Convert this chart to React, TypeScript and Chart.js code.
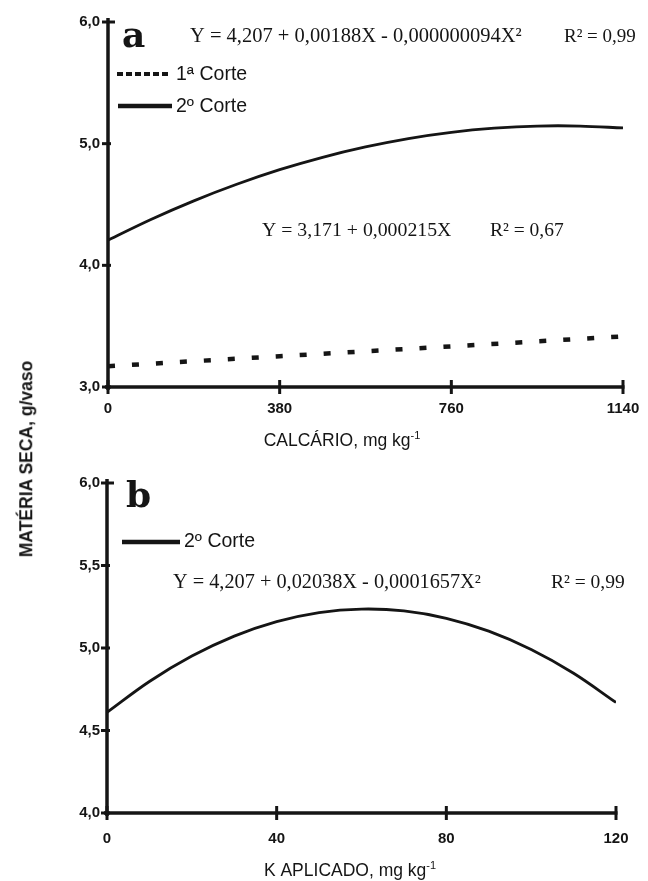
import React, { useEffect, useRef } from 'react';
import { Chart, registerables } from 'chart.js';

Chart.register(...registerables);

// ---------- DATA ----------
// Panel a: CALCÁRIO (mg kg-1)
const calcarioTicks = [0, 380, 760, 1140];
const materiaTicksA = [3, 4, 5, 6];
const calcarioX = [0, 95, 190, 285, 380, 475, 570, 665, 760, 855, 950, 1045, 1140];
const corte2A = [4.207, 4.377, 4.53, 4.666, 4.786, 4.888, 4.973, 5.042, 5.093, 5.127, 5.145, 5.145, 5.129];
const corte1X = [0, 380, 760, 1140];
const corte1A = [3.171, 3.253, 3.334, 3.416];

// Panel b: K APLICADO (mg kg-1)
const kTicks = [0, 40, 80, 120];
const materiaTicksB = [4, 4.5, 5, 5.5, 6];
const kX = [0, 10, 20, 30, 40, 50, 60, 70, 80, 90, 100, 110, 120];
const corte2B = [4.61, 4.797, 4.951, 5.072, 5.16, 5.215, 5.236, 5.225, 5.18, 5.102, 4.991, 4.847, 4.67];

// Texts
const eqA2 = 'Y = 4,207 + 0,00188X - 0,000000094X²';
const r2A2 = 'R² = 0,99';
const eqA1 = 'Y = 3,171 + 0,000215X';
const r2A1 = 'R² = 0,67';
const eqB = 'Y = 4,207 + 0,02038X - 0,0001657X²';
const r2B = 'R² = 0,99';
const legend1 = '1ª Corte';
const legend2 = '2º Corte';
const titleA = 'CALCÁRIO, mg kg';
const titleB = 'K APLICADO, mg kg';
const titleSup = '-1';
const yTitle = 'MATÉRIA SECA, g/vaso';

// ---------- DRAWING HELPERS ----------
const INK = '#151515';
const SERIF = '"Liberation Serif", "DejaVu Serif", serif';
const SERIF_WIDE = '"DejaVu Serif", "Liberation Serif", serif';
const SANS = '"Liberation Sans", Arial, sans-serif';

type Part = { t: string; sup?: boolean };
type TextItem = { parts: Part[]; x: number; y: number; size: number; family: string; weight?: string; align?: 'left' | 'center' };
type LegendItem = { x1: number; x2: number; y: number; dash: number[]; width: number };
type Decor = {
  texts: TextItem[];
  legend: LegendItem[];
  xTickUp: number;
  xTickDown: number;
};

function drawRich(ctx: CanvasRenderingContext2D, it: TextItem) {
  const w = it.weight || 'normal';
  const fN = `${w} ${it.size}px ${it.family}`;
  const fS = `${w} ${Math.round(it.size * 0.62)}px ${it.family}`;
  let total = 0;
  for (const p of it.parts) {
    ctx.font = p.sup ? fS : fN;
    total += ctx.measureText(p.t).width;
  }
  let cx = it.align === 'center' ? it.x - total / 2 : it.x;
  ctx.textAlign = 'left';
  ctx.textBaseline = 'alphabetic';
  for (const p of it.parts) {
    ctx.font = p.sup ? fS : fN;
    ctx.fillText(p.t, cx, p.sup ? it.y - it.size * 0.42 : it.y);
    cx += ctx.measureText(p.t).width;
  }
}

function makeDecor(cfg: Decor) {
  return {
    id: 'decor',
    afterDraw(chart: any) {
      const { ctx, chartArea, scales } = chart;
      const xs = scales.x;
      const ys = scales.y;
      const left = chartArea.left;
      const bottom = chartArea.bottom;
      ctx.save();
      ctx.strokeStyle = INK;
      ctx.fillStyle = INK;
      ctx.lineCap = 'butt';
      ctx.setLineDash([]);
      // axis lines
      ctx.lineWidth = 3.5;
      ctx.beginPath();
      ctx.moveTo(left, ys.getPixelForValue(ys.max) - 4);
      ctx.lineTo(left, bottom + 3);
      ctx.stroke();
      ctx.beginPath();
      ctx.moveTo(left - 3, bottom);
      ctx.lineTo(xs.getPixelForValue(xs.max) + 1.5, bottom);
      ctx.stroke();
      // y ticks
      ctx.lineWidth = 3;
      for (const t of ys.ticks) {
        const py = ys.getPixelForValue(t.value);
        ctx.beginPath();
        ctx.moveTo(left - 6, py);
        ctx.lineTo(left + (t.value === ys.max ? 7 : 3), py);
        ctx.stroke();
      }
      // x ticks
      for (const t of xs.ticks) {
        const px = xs.getPixelForValue(t.value);
        ctx.beginPath();
        ctx.moveTo(px, bottom - cfg.xTickUp);
        ctx.lineTo(px, bottom + cfg.xTickDown);
        ctx.stroke();
      }
      // legend samples
      for (const l of cfg.legend) {
        ctx.lineWidth = l.width;
        ctx.setLineDash(l.dash);
        ctx.beginPath();
        ctx.moveTo(l.x1, l.y);
        ctx.lineTo(l.x2, l.y);
        ctx.stroke();
      }
      ctx.setLineDash([]);
      // texts
      for (const it of cfg.texts) drawRich(ctx, it);
      ctx.restore();
    },
  };
}

function scaleOpts(ticksArr: number[], min: number, max: number, fmt: (v: number) => string, fitSize: number, horizontal: boolean, pad: number) {
  return {
    type: 'linear' as const,
    min,
    max,
    grid: { display: false, drawTicks: false },
    border: { display: false },
    afterBuildTicks: (s: any) => {
      s.ticks = ticksArr.map((v) => ({ value: v }));
    },
    afterFit: (s: any) => {
      if (horizontal) {
        s.height = fitSize;
        s.paddingLeft = 0;
        s.paddingRight = 0;
      } else {
        s.width = fitSize;
        s.paddingTop = 0;
        s.paddingBottom = 0;
      }
    },
    ticks: {
      autoSkip: false,
      maxRotation: 0,
      minRotation: 0,
      padding: pad,
      color: INK,
      font: { family: SANS, size: 15, weight: 'bold' as const },
      callback: (v: any) => fmt(Number(v)),
    },
  };
}

const fmtComma = (v: number) => v.toFixed(1).replace('.', ',');
const fmtInt = (v: number) => String(v);

const W = 648;
const HA = 455;
const TOPB = 460;
const HB = 881 - TOPB;

export default function App() {
  const refA = useRef<HTMLCanvasElement | null>(null);
  const refB = useRef<HTMLCanvasElement | null>(null);

  useEffect(() => {
    if (!refA.current || !refB.current) return;

    const decorA = makeDecor({
      xTickUp: 7,
      xTickDown: 7,
      legend: [
        { x1: 117, x2: 171, y: 74, dash: [6, 3], width: 4 },
        { x1: 118, x2: 172, y: 106, dash: [], width: 4.5 },
      ],
      texts: [
        { parts: [{ t: 'a' }], x: 122, y: 47, size: 36, family: SERIF_WIDE, weight: 'bold' },
        { parts: [{ t: eqA2 }], x: 190, y: 42, size: 20.5, family: SERIF },
        { parts: [{ t: r2A2 }], x: 564, y: 42, size: 19, family: SERIF },
        { parts: [{ t: legend1 }], x: 176, y: 80, size: 19.5, family: SANS },
        { parts: [{ t: legend2 }], x: 176, y: 112, size: 19.5, family: SANS },
        { parts: [{ t: eqA1 }], x: 262, y: 236, size: 19.8, family: SERIF },
        { parts: [{ t: r2A1 }], x: 490, y: 236, size: 19.5, family: SERIF },
        { parts: [{ t: titleA }, { t: titleSup, sup: true }], x: 342, y: 446, size: 17.5, family: SANS, align: 'center' },
      ],
    });

    const chartA = new Chart(refA.current, {
      type: 'line',
      data: {
        datasets: [
          {
            label: legend2,
            data: calcarioX.map((x, i) => ({ x, y: corte2A[i] })),
            borderColor: INK,
            borderWidth: 2.8,
            pointRadius: 0,
            tension: 0.35,
            fill: false,
          },
          {
            label: legend1,
            data: corte1X.map((x, i) => ({ x, y: corte1A[i] })),
            borderColor: INK,
            borderWidth: 4.5,
            borderDash: [7, 17],
            borderCapStyle: 'butt',
            pointRadius: 0,
            tension: 0,
            fill: false,
          },
        ],
      },
      options: {
        animation: false,
        responsive: false,
        devicePixelRatio: 1,
        layout: { padding: { top: 22, right: 25, left: 0, bottom: 0 } },
        plugins: { legend: { display: false }, tooltip: { enabled: false } },
        scales: {
          x: scaleOpts(calcarioTicks, 0, 1140, fmtInt, HA - 387, true, 13) as any,
          y: scaleOpts(materiaTicksA, 3, 6, fmtComma, 108, false, 8) as any,
        },
      },
      plugins: [decorA as any],
    });

    const decorB = makeDecor({
      xTickUp: 7,
      xTickDown: 7,
      legend: [{ x1: 122, x2: 180, y: 542 - TOPB, dash: [], width: 4.5 }],
      texts: [
        { parts: [{ t: 'b' }], x: 126, y: 507 - TOPB, size: 36, family: SERIF_WIDE, weight: 'bold' },
        { parts: [{ t: legend2 }], x: 184, y: 547 - TOPB, size: 19.5, family: SANS },
        { parts: [{ t: eqB }], x: 173, y: 588 - TOPB, size: 20.3, family: SERIF },
        { parts: [{ t: r2B }], x: 551, y: 588 - TOPB, size: 19.5, family: SERIF },
        { parts: [{ t: titleB }, { t: titleSup, sup: true }], x: 350, y: 876 - TOPB, size: 17.5, family: SANS, align: 'center' },
      ],
    });

    const chartB = new Chart(refB.current, {
      type: 'line',
      data: {
        datasets: [
          {
            label: legend2,
            data: kX.map((x, i) => ({ x, y: corte2B[i] })),
            borderColor: INK,
            borderWidth: 2.8,
            pointRadius: 0,
            tension: 0.35,
            fill: false,
          },
        ],
      },
      options: {
        animation: false,
        responsive: false,
        devicePixelRatio: 1,
        layout: { padding: { top: 483 - TOPB, right: W - 616, left: 0, bottom: 0 } },
        plugins: { legend: { display: false }, tooltip: { enabled: false } },
        scales: {
          x: scaleOpts(kTicks, 0, 120, fmtInt, HB - (813 - TOPB), true, 17) as any,
          y: scaleOpts(materiaTicksB, 4, 6, fmtComma, 107, false, 7) as any,
        },
      },
      plugins: [decorB as any],
    });

    return () => {
      chartA.destroy();
      chartB.destroy();
    };
  }, []);

  return (
    <div style={{ position: 'absolute', left: 0, top: 0, width: W, height: 881, background: '#fff', overflow: 'hidden' }}>
      <canvas ref={refA} width={W} height={HA} style={{ position: 'absolute', left: 0, top: 0, width: W, height: HA }} />
      <canvas ref={refB} width={W} height={HB} style={{ position: 'absolute', left: 0, top: TOPB, width: W, height: HB }} />
      <div
        style={{
          position: 'absolute',
          left: 27,
          top: 459,
          transform: 'translate(-50%, -50%) rotate(-90deg)',
          whiteSpace: 'nowrap',
          fontFamily: SANS,
          fontWeight: 'bold',
          fontSize: 17.5,
          color: INK,
          lineHeight: 1,
        }}
      >
        {yTitle}
      </div>
    </div>
  );
}
